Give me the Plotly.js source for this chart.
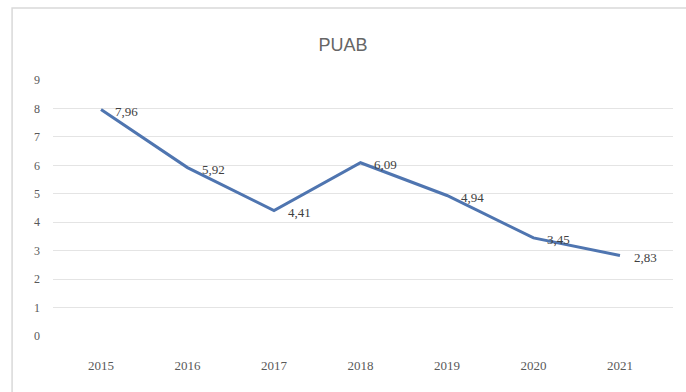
<!DOCTYPE html>
<html>
<head>
<meta charset="utf-8">
<script src="https://cdn.plot.ly/plotly-3.0.1.min.js"></script>
<style>
  html, body { margin: 0; padding: 0; background: #ffffff; }
  #chart { width: 686px; height: 392px; }
</style>
</head>
<body>
<div id="chart"></div>
<script>
// PUAB yearly values
const years = ['2015', '2016', '2017', '2018', '2019', '2020', '2021'];
const puab = [7.96, 5.92, 4.41, 6.09, 4.94, 3.45, 2.83];
const yTicks = [0, 1, 2, 3, 4, 5, 6, 7, 8, 9];

const serif = 'Liberation Serif, Times New Roman, serif';

// decimal comma labels, e.g. 7,96
const fmt = v => v.toFixed(2).replace('.', ',');

const trace = {
  x: years,
  y: puab,
  type: 'scatter',
  mode: 'lines',
  line: { color: '#4f75b0', width: 3 },
  hoverinfo: 'none'
};

// data labels sit to the right of each point (x is the category index)
const labels = years.map((yr, i) => ({
  x: i,
  y: puab[i],
  xref: 'x', yref: 'y',
  text: fmt(puab[i]),
  showarrow: false,
  xanchor: 'left',
  yanchor: 'middle',
  xshift: 12,
  yshift: -2,
  font: { family: serif, size: 13, color: '#404040' }
}));

const layout = {
  width: 686,
  height: 392,
  margin: { l: 53, r: 13, t: 80, b: 56 },
  paper_bgcolor: '#ffffff',
  plot_bgcolor: '#ffffff',
  separators: ',.',
  showlegend: false,
  title: {
    text: 'PUAB',
    font: { family: 'Liberation Sans, Arial, sans-serif', size: 18, color: '#666666' },
    x: 0.5,
    xanchor: 'center',
    y: 0.885,
    yanchor: 'middle'
  },
  xaxis: {
    type: 'category',
    range: [-0.555, 6.613],
    showgrid: false,
    zeroline: false,
    showline: false,
    ticks: '',
    tickfont: { family: serif, size: 13, color: '#595959' },
    ticklabelstandoff: 20,
    fixedrange: true
  },
  yaxis: {
    range: [0, 9],
    tickvals: yTicks,
    ticktext: yTicks.map(String),
    showgrid: true,
    gridcolor: '#e4e4e4',
    gridwidth: 1,
    zeroline: false,
    showline: false,
    ticks: '',
    tickfont: { family: serif, size: 12, color: '#595959' },
    ticklabelstandoff: 12,
    fixedrange: true
  },
  annotations: labels,
  shapes: [{
    type: 'rect',
    xref: 'paper', yref: 'paper',
    x0: -0.066, x1: 1.03,
    y0: -0.25, y1: 1.281,
    line: { color: '#d9d9d9', width: 1.5 },
    fillcolor: 'rgba(0,0,0,0)',
    layer: 'below'
  }]
};

Plotly.newPlot('chart', [trace], layout, { displayModeBar: false, staticPlot: true });
</script>
</body>
</html>
